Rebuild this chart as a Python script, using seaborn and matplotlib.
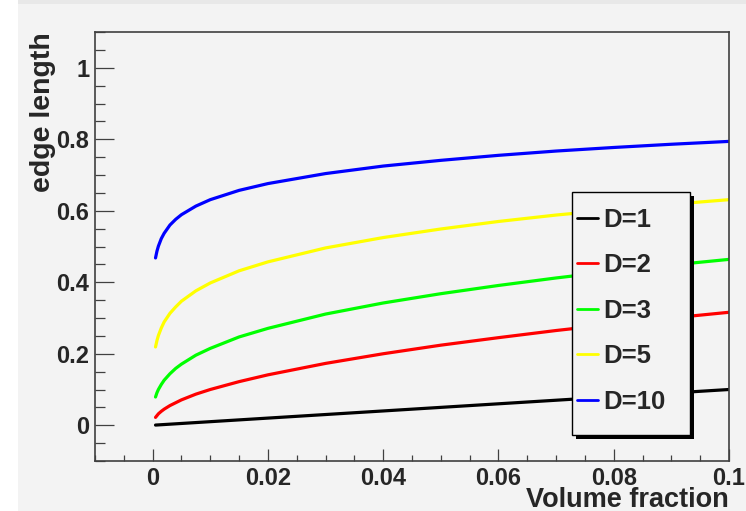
import matplotlib
matplotlib.use('Agg')
import matplotlib.pyplot as plt
from matplotlib.patches import Rectangle
from matplotlib.ticker import MultipleLocator, FormatStrFormatter
import numpy as np
import pandas as pd
import seaborn as sns

# Volume fraction samples
volume_fraction = [0.0005, 0.00075, 0.001, 0.0015, 0.002, 0.003, 0.004, 0.005, 0.0075,
                   0.01, 0.015, 0.02, 0.03, 0.04, 0.05, 0.06, 0.07, 0.08, 0.09, 0.1]

edge_d1 = [0.0005, 0.00075, 0.001, 0.0015, 0.002, 0.003, 0.004, 0.005, 0.0075,
           0.01, 0.015, 0.02, 0.03, 0.04, 0.05, 0.06, 0.07, 0.08, 0.09, 0.1]
edge_d2 = [0.022, 0.027, 0.032, 0.039, 0.045, 0.055, 0.063, 0.071, 0.087,
           0.100, 0.122, 0.141, 0.173, 0.200, 0.224, 0.245, 0.265, 0.283, 0.300, 0.316]
edge_d3 = [0.079, 0.091, 0.100, 0.114, 0.126, 0.144, 0.159, 0.171, 0.196,
           0.215, 0.247, 0.271, 0.311, 0.342, 0.368, 0.391, 0.412, 0.431, 0.448, 0.464]
edge_d5 = [0.219, 0.237, 0.251, 0.272, 0.289, 0.313, 0.331, 0.347, 0.376,
           0.398, 0.432, 0.457, 0.496, 0.525, 0.549, 0.570, 0.588, 0.603, 0.618, 0.631]
edge_d10 = [0.468, 0.487, 0.501, 0.522, 0.537, 0.560, 0.576, 0.589, 0.613,
            0.631, 0.657, 0.676, 0.704, 0.725, 0.741, 0.755, 0.767, 0.777, 0.786, 0.794]

series_labels = ["D=1", "D=2", "D=3", "D=5", "D=10"]
series_values = [edge_d1, edge_d2, edge_d3, edge_d5, edge_d10]
series_colors = ["#000000", "#ff0000", "#00ff00", "#ffff00", "#0000ff"]

x_ticks = [0, 0.02, 0.04, 0.06, 0.08, 0.1]
y_ticks = [0, 0.2, 0.4, 0.6, 0.8, 1.0]

df = pd.DataFrame({
    "x": np.tile(volume_fraction, len(series_labels)),
    "y": np.concatenate(series_values),
    "D": np.repeat(series_labels, len(volume_fraction)),
})

sns.set_theme(style="ticks")
plt.rcParams['font.family'] = ['Liberation Sans', 'DejaVu Sans']
plt.rcParams['font.weight'] = 'bold'

bg = "#f3f3f3"
axc = "#404040"
fig = plt.figure(figsize=(7.46, 5.11), dpi=100, facecolor="white")
# ROOT canvas background
fig.patches.append(Rectangle((18 / 746, 0), 1, 507 / 511, transform=fig.transFigure,
                             facecolor=bg, edgecolor="none", zorder=-10))
fig.patches.append(Rectangle((18 / 746, 507 / 511), 1, 4 / 511, transform=fig.transFigure,
                             facecolor="#e8e8e8", edgecolor="none", zorder=-10))
ax = fig.add_axes([95 / 746, 50 / 511, 634 / 746, 429 / 511])
ax.set_facecolor(bg)

sns.lineplot(data=df, x="x", y="y", hue="D", palette=dict(zip(series_labels, series_colors)),
             hue_order=series_labels, errorbar=None, linewidth=2.3, ax=ax, legend=True)

ax.set_xlim(-0.01, 0.1)
ax.set_ylim(-0.1, 1.1)
ax.set_xticks(x_ticks)
ax.set_yticks(y_ticks)
ax.xaxis.set_minor_locator(MultipleLocator(0.005))
ax.yaxis.set_minor_locator(MultipleLocator(0.05))
ax.xaxis.set_major_formatter(FormatStrFormatter('%g'))
ax.yaxis.set_major_formatter(FormatStrFormatter('%g'))

ax.tick_params(axis="y", which="major", direction="in", length=14, width=0.9, color=axc,
               labelsize=17, pad=4)
ax.tick_params(axis="y", which="minor", direction="in", length=7, width=0.9, color=axc)
ax.tick_params(axis="x", which="major", direction="in", length=8.5, width=0.9, color=axc,
               labelsize=17, pad=4)
ax.tick_params(axis="x", which="minor", direction="in", length=4.3, width=0.9, color=axc)
for lab in ax.get_xticklabels() + ax.get_yticklabels():
    lab.set_fontweight("bold")

for s in ax.spines.values():
    s.set_color(axc)
    s.set_linewidth(1.2)

ax.set_xlabel("Volume fraction", fontsize=19.5, fontweight="bold", loc="right")
ax.set_ylabel("edge length", fontsize=20.5, fontweight="bold", loc="top")
ax.xaxis.set_label_coords(1.0, -0.06)
ax.yaxis.set_label_coords(-0.062, 1.0)

# legend box with ROOT-style solid shadow
bx, by, bw, bh = 0.7524, 0.0606, 0.1861, 0.5664
ax.add_patch(Rectangle((bx + 0.0063, by - 0.0093), bw, bh, transform=ax.transAxes,
                       facecolor="black", edgecolor="none", zorder=5, clip_on=False))
ax.add_patch(Rectangle((bx, by), bw, bh, transform=ax.transAxes,
                       facecolor=bg, edgecolor="black", linewidth=1.0, zorder=6, clip_on=False))
handles, labels = ax.get_legend_handles_labels()
leg = ax.legend(handles, labels, loc="upper left", bbox_to_anchor=(0.7358, 0.627),
                frameon=False, borderaxespad=0, borderpad=0.61, fontsize=18.5,
                handlelength=0.8, handletextpad=0.2, labelspacing=0.84)
leg.set_zorder(7)
for h in leg.get_lines():
    h.set_linewidth(2.0)
for t in leg.get_texts():
    t.set_fontweight("bold")

fig.savefig("out.png", dpi=100, facecolor=fig.get_facecolor())
